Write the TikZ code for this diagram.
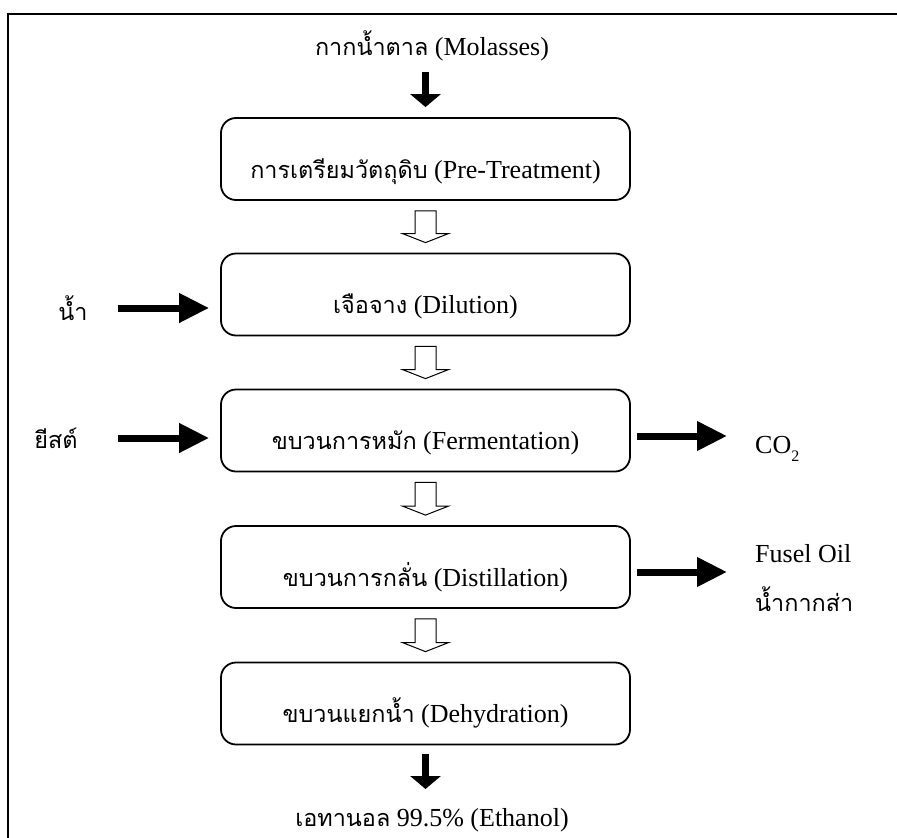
\documentclass[tikz,border=0pt]{standalone}
\usepackage{fontspec}
\setmainfont{Liberation Serif}
\newfontfamily\thai[Script=Thai,Scale=0.9]{Loma}
\usetikzlibrary{arrows.meta,calc}

% hollow block arrow between two stacked stages
\newcommand\flowdown[2]{%
  \draw[hollowarrow]
    ($(#1.south)+(-10.5,10)$) -- ($(#1.south)+(10.5,10)$)
    -- ($(#2.north)+(10.5,-19)$) -- ($(#2.north)+(23,-19)$)
    -- ($(#2.north)+(0,-10)$)
    -- ($(#2.north)+(-23,-19)$) -- ($(#2.north)+(-10.5,-19)$) -- cycle;}

\begin{document}
\begin{tikzpicture}[x=1pt,y=-1pt,
  every node/.style={font=\fontsize{26}{30}\selectfont, inner sep=0pt},
  stage/.style={draw, line width=1.8pt, rounded corners=15pt,
    minimum width=409pt, minimum height=82pt, text height=38pt, text depth=0pt},
  hollowarrow/.style={draw, line width=1pt, fill=white, line join=miter},
  blkh/.style={line width=7pt, -{Triangle[length=30pt,width=28pt]}},
  blkv/.style={line width=7pt, -{Triangle[length=13pt,width=30pt]}},
  frame/.style={line width=2pt}]

\useasboundingbox (0,0) rectangle (897,838);
\draw[frame] (897,14) -- (8,14) -- (8,838);

% process stages
\node[stage] (b1) at (425.5,159)   {{\thai การเตรียมวัตถุดิบ} (Pre-Treatment)};
\node[stage] (b2) at (425.5,294.5) {{\thai เจือจาง} (Dilution)};
\node[stage] (b3) at (425.5,430.5) {{\thai ขบวนการหมัก} (Fermentation)};
\node[stage] (b4) at (425.5,567)   {{\thai ขบวนการกลั่น} (Distillation)};
\node[stage] (b5) at (425.5,703.5) {{\thai ขบวนแยกน้ำ} (Dehydration)};

\flowdown{b1}{b2}
\flowdown{b2}{b3}
\flowdown{b3}{b4}
\flowdown{b4}{b5}

% feed and product
\node[anchor=base] (molasses) at (432,55) {{\thai กากน้ำตาล} (Molasses)};
\node[anchor=base] (ethanol) at (432,826) {{\thai เอทานอล} 99.5\% (Ethanol)};
\coordinate (molIn) at (425.5,72);
\coordinate (ethOut) at (425.5,789);
\draw[blkv, shorten >=10pt] (molIn) -- (b1.north);
\draw[blkv, shorten <=9pt] (b5.south) -- (ethOut);

% side inputs
\node[anchor=base] (water) at (73,320) {\thai น้ำ};
\node[anchor=base] (yeast) at (56,448) {\thai ยีสต์};
\coordinate (waterIn) at (118,308);
\coordinate (yeastIn) at (118,438);
\draw[blkh, shorten >=11pt] (waterIn) -- (b2.west |- waterIn);
\draw[blkh, shorten >=11pt] (yeastIn) -- (b3.west |- yeastIn);

% side outputs
\node[anchor=base west] (co2) at (755,453)
  {CO\raisebox{-8pt}{\fontsize{16}{16}\selectfont 2}};
\node[anchor=base west] (fusel) at (755,562) {Fusel Oil};
\node[anchor=base west] (vinasse) at (755,611) {\thai น้ำกากส่า};
\coordinate (co2Out) at (727,436);
\coordinate (fuselOut) at (727,572);
\draw[blkh, shorten <=6pt] (b3.east |- co2Out) -- (co2Out);
\draw[blkh, shorten <=6pt] (b4.east |- fuselOut) -- (fuselOut);
\end{tikzpicture}
\end{document}
